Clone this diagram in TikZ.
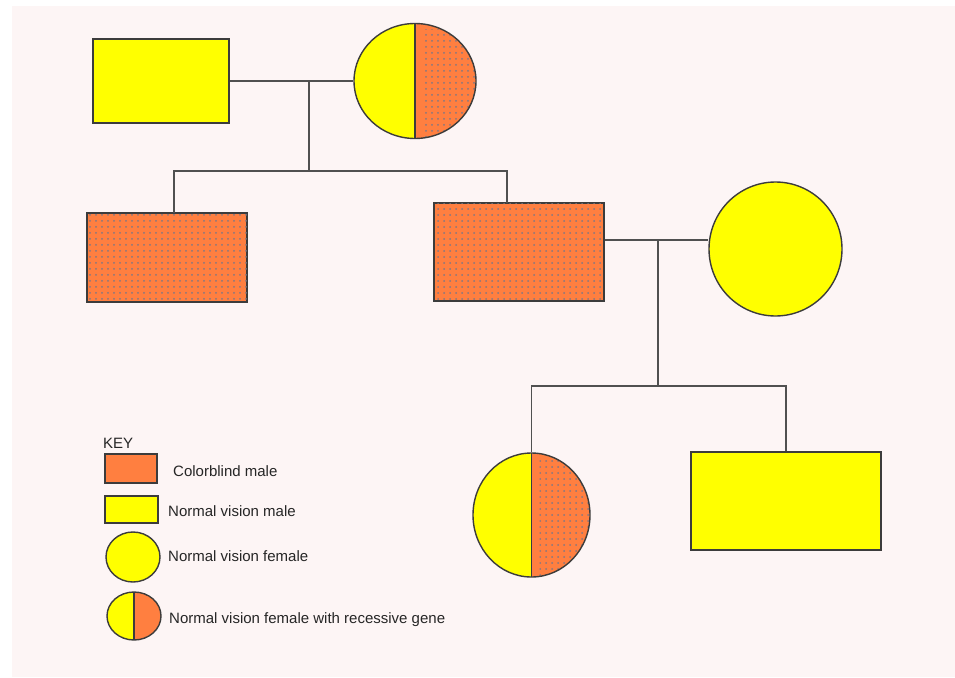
\documentclass[tikz,border=0pt]{standalone}
\usepackage{fontspec}
\setmainfont{Liberation Sans}
\usetikzlibrary{shapes.geometric,patterns.meta}
\definecolor{cborange}{RGB}{255,127,64}
\definecolor{nvyellow}{RGB}{255,255,0}
\definecolor{bgpink}{RGB}{253,245,245}
\definecolor{edgegray}{RGB}{60,60,60}
\definecolor{dotgray}{RGB}{130,120,130}
\tikzset{
  male/.style={rectangle, draw=edgegray, line width=1.4pt, inner sep=0pt},
  female/.style={ellipse, draw=edgegray, line width=1.4pt, inner sep=0pt},
  normal/.style={fill=nvyellow},
  blind/.style={fill=cborange, postaction={pattern={Dots[distance=6pt, radius=1pt]}, pattern color=dotgray}},
  keyblind/.style={fill=cborange},
  carrier/.style={fill=nvyellow, path picture={
    \fill[cborange] (path picture bounding box.north) rectangle (path picture bounding box.south east);
    \fill[pattern={Dots[distance=6pt, radius=1pt]}, pattern color=dotgray] (path picture bounding box.north) ++(8,6) rectangle (path picture bounding box.south east);
    \draw[edgegray, line width=1.4pt] (path picture bounding box.north) -- (path picture bounding box.south);}},
  keycarrier/.style={fill=nvyellow, path picture={
    \fill[cborange] (path picture bounding box.north) rectangle (path picture bounding box.south east);
    \draw[edgegray, line width=1.4pt] (path picture bounding box.north) -- (path picture bounding box.south);}},
  link/.style={draw=edgegray!90, line width=1.3pt},
  keytext/.style={anchor=base west, inner sep=0pt, text=black!85, font=\fontsize{15}{18}\selectfont}
}
\begin{document}
\begin{tikzpicture}[x=1pt, y=-1pt]
\useasboundingbox (0,0) rectangle (955,677);
\fill [bgpink] (12,6) rectangle (955,677);
% first generation
\node [male, normal, minimum width=136pt, minimum height=84pt] (father) at (161,81) {};
\node [female, carrier, minimum width=122pt, minimum height=115pt] (mother) at (415,81) {};
% second generation
\node [male, blind, minimum width=160pt, minimum height=89pt] (son1) at (167,257.5) {};
\node [male, blind, minimum width=170pt, minimum height=98pt] (son2) at (519,252) {};
\node [female, normal, minimum width=133pt, minimum height=134pt] (wife) at (775.5,249) {};
% third generation
\node [female, carrier, minimum width=117pt, minimum height=124pt] (daughter) at (531.5,515) {};
\node [male, normal, minimum width=190pt, minimum height=98pt] (grandson) at (786,501) {};
% connectors
\coordinate (m1) at (309,81);
\coordinate (bar1) at (309,171);
\coordinate (s1top) at (174,213);
\coordinate (s2top) at (507,203);
\draw [link] (father.east) -- (mother.west);
\draw [link] (m1) -- (bar1);
\draw [link] (s1top) |- (bar1) -| (s2top);
\coordinate (m2) at (658,240);
\coordinate (bar2) at (658,386);
\draw [link] (m2 -| son2.east) -- (m2 -| wife.west);
\draw [link] (m2) -- (bar2);
\draw [link] (daughter.north) |- (bar2) -| (grandson.north);
% key
\node [keytext] (keytitle) at (103,448) {KEY};
\node [male, keyblind, minimum width=52pt, minimum height=29pt] (keycb) at (131,468.5) {};
\node [keytext] (keycbtext) at (173,476) {Colorblind male};
\node [male, normal, minimum width=53pt, minimum height=27pt] (keynm) at (131.5,509.5) {};
\node [keytext] (keynmtext) at (168,516) {Normal vision male};
\node [female, normal, minimum width=54pt, minimum height=50pt] (keynf) at (133,557) {};
\node [keytext] (keynftext) at (168,561) {Normal vision female};
\node [female, keycarrier, minimum width=54pt, minimum height=48pt] (keyrg) at (134,616) {};
\node [keytext] (keyrgtext) at (169,623) {Normal vision female with recessive gene};
\end{tikzpicture}
\end{document}
